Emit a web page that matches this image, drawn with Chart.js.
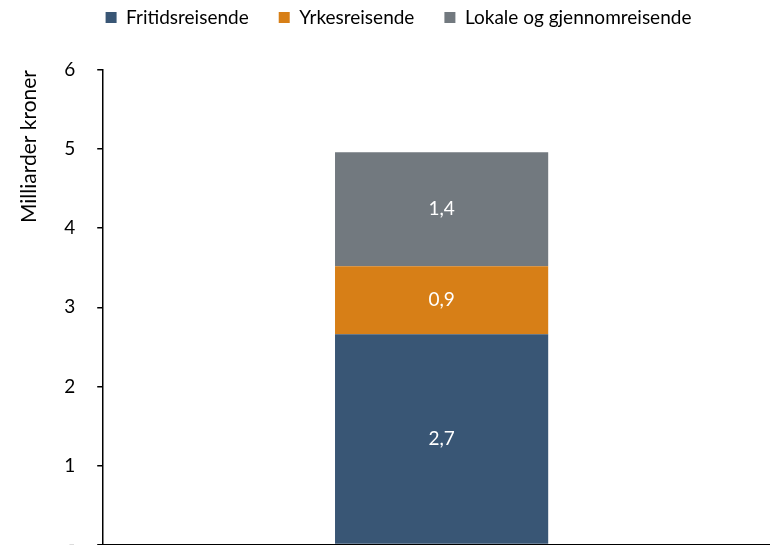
<!DOCTYPE html>
<html>
<head>
<meta charset="utf-8">
<script src="https://cdn.jsdelivr.net/npm/chart.js@4"></script>
<style>
html,body{margin:0;padding:0;background:#fff;overflow:hidden;}
#wrap{width:770px;height:545px;position:relative;overflow:hidden;}
canvas{position:absolute;left:0;top:0;}
</style>
</head>
<body>
<div id="wrap"><canvas id="c" width="780" height="578"></canvas></div>
<script>
const categories = ['2019'];
const seriesNames = ['Fritidsreisende', 'Yrkesreisende', 'Lokale og gjennomreisende'];
const fritids = [2.66];
const yrkes = [0.86];
const lokale = [1.44];
const colors = ['#395675', '#D77F17', '#72797F'];
const yTicks = [0, 1, 2, 3, 4, 5, 6];

const FONT = 'Lato, "Open Sans", sans-serif';

const fmt = v => v.toFixed(1).replace('.', ',');

const barLabels = {
  id: 'barLabels',
  afterDatasetsDraw(chart) {
    const ctx = chart.ctx;
    ctx.save();
    ctx.fillStyle = '#ffffff';
    ctx.font = '19px ' + FONT;
    ctx.textAlign = 'center';
    ctx.textBaseline = 'middle';
    chart.data.datasets.forEach((ds, i) => {
      const meta = chart.getDatasetMeta(i);
      meta.data.forEach((el, j) => {
        const p = el.getProps(['x', 'y', 'base'], true);
        ctx.fillText(fmt(ds.data[j]), p.x, (p.y + p.base) / 2);
      });
    });
    ctx.restore();
  }
};

const legendSpace = {
  id: 'legendSpace',
  beforeInit(chart) {
    const fit = chart.legend.fit;
    chart.legend.fit = function () {
      fit.bind(chart.legend)();
      this.height += 33;
    };
  }
};

new Chart(document.getElementById('c'), {
  type: 'bar',
  data: {
    labels: categories,
    datasets: [
      { label: seriesNames[0], data: fritids, backgroundColor: colors[0] },
      { label: seriesNames[1], data: yrkes, backgroundColor: colors[1] },
      { label: seriesNames[2], data: lokale, backgroundColor: colors[2] }
    ]
  },
  options: {
    responsive: false,
    animation: false,
    devicePixelRatio: 1,
    layout: { padding: { left: 17, right: 0, top: -22, bottom: 0 } },
    datasets: { bar: { categoryPercentage: 1, barPercentage: 0.315 } },
    plugins: {
      legend: {
        position: 'top',
        labels: {
          boxWidth: 11, boxHeight: 11, padding: 30,
          color: '#000', font: { family: FONT, size: 19 }
        }
      },
      tooltip: { enabled: false }
    },
    scales: {
      x: {
        stacked: true,
        grid: { display: false, drawTicks: false },
        border: { display: true, color: '#000', width: 1.5 },
        ticks: { display: false }
      },
      y: {
        stacked: true,
        min: 0, max: 6,
        afterBuildTicks(axis) { axis.ticks = yTicks.map(v => ({ value: v })); },
        grid: { drawOnChartArea: false, drawTicks: true, tickLength: 6, color: '#000', lineWidth: 1.5 },
        border: { display: true, color: '#000', width: 1.5 },
        ticks: {
          color: '#000', padding: 22,
          font: { family: FONT, size: 19 },
          callback: v => v === 0 ? '-' : String(v)
        },
        title: {
          display: true, text: 'Milliarder kroner', align: 'end',
          color: '#000', font: { family: FONT, size: 21 },
          padding: { top: 0, bottom: 0 }
        }
      }
    }
  },
  plugins: [barLabels, legendSpace]
});
</script>
</body>
</html>
